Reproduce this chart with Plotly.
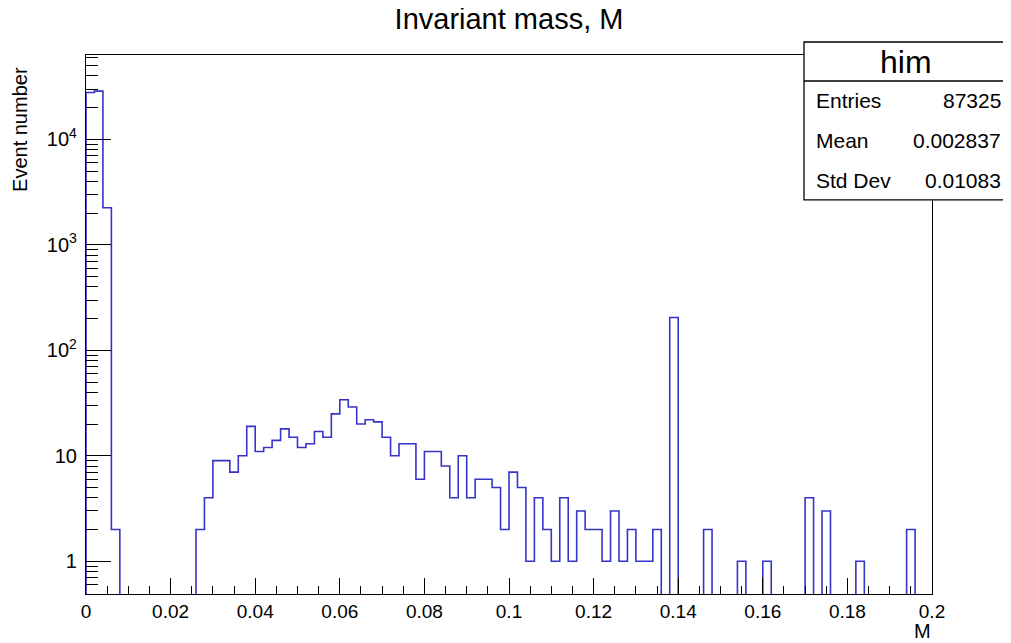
import numpy as np
import plotly.graph_objects as go

# ---------------- data ----------------
bin_width = 0.002
x_min, x_max = 0.0, 0.2
counts = [27800, 28700, 2250, 2, 0, 0, 0, 0, 0, 0,
          0, 0, 0, 2, 4, 9, 9, 7, 10, 19,
          11, 12, 14, 18, 15, 12, 13, 17, 15, 25,
          34, 29, 20, 22, 21, 15, 10, 13, 13, 6,
          11, 11, 8, 4, 10, 4, 6, 6, 5, 2,
          7, 5, 1, 4, 2, 1, 4, 1, 3, 2,
          2, 1, 3, 1, 2, 1, 1, 2, 0, 205,
          0, 0, 0, 2, 0, 0, 0, 1, 0, 0,
          1, 0, 0, 0, 0, 4, 0, 3, 0, 0,
          0, 1, 0, 0, 0, 0, 0, 2, 0, 0]

title_text = "Invariant mass, M"
x_title = "M"
y_title = "Event number"
stats_name = "him"
stats_labels = ["Entries", "Mean", "Std Dev"]
stats_values = ["87325", "0.002837", "0.01083"]

x_tickvals = [0, 0.02, 0.04, 0.06, 0.08, 0.1, 0.12, 0.14, 0.16, 0.18, 0.2]
x_ticktext = ["0", "0.02", "0.04", "0.06", "0.08", "0.1", "0.12", "0.14", "0.16", "0.18", "0.2"]
y_tickvals = [1, 10, 100, 1000, 10000]
y_ticktext = ["1", "10", "10<sup>2</sup>", "10<sup>3</sup>", "10<sup>4</sup>"]

# ---------------- layout geometry (page pixels) ----------------
OFF = 8                      # default body margin of the html page
PAGE_W, PAGE_H = 1011, 643
PL, PR, PT, PB = 86, 932, 55, 594.3   # plot frame in page pixels
W, H = PAGE_W - OFF, PAGE_H - OFF
ML, MT = PL - OFF, PT - OFF
MR = W - (PR - OFF)
MB = H - (PB - OFF)
PW = PR - PL
PH = PB - PT


def px(x):
    return (x - PL) / PW


def py(y):
    return (PB - y) / PH


ylog_lo, ylog_hi = -0.31, 4.80
FONT = "Liberation Sans, Arial, Helvetica, sans-serif"
LINE_BLUE = "#3434c8"

# step outline
edges = x_min + bin_width * np.arange(len(counts) + 1)
floor = 10 ** (ylog_lo - 1)
yv = [c if c > 0 else floor for c in counts]
xs = [edges[0]] + list(edges[:-1]) + [edges[-1], edges[-1]]
ys = [floor] + yv + [yv[-1], floor]

fig = go.Figure()
fig.add_trace(go.Scatter(x=xs, y=ys, mode="lines", line=dict(shape="hv", color=LINE_BLUE, width=1.6),
                         hoverinfo="skip", showlegend=False))

# minor log ticks
minor_y = []
for d in range(-1, 5):
    for m in range(2, 10):
        v = m * 10.0 ** d
        if ylog_lo <= np.log10(v) <= ylog_hi:
            minor_y.append(v)

fig.update_layout(
    width=W, height=H,
    margin=dict(l=ML, r=MR, t=MT, b=MB, pad=0),
    paper_bgcolor="white", plot_bgcolor="white",
    font=dict(family=FONT, color="black", size=19),
    title=dict(text=title_text, x=0.5, xref="paper", xanchor="center",
               y=1 - (19 - OFF) / H, yref="container", yanchor="middle",
               font=dict(size=29, family=FONT, color="black")),
    showlegend=False,
    xaxis=dict(range=[x_min, x_max], showgrid=False, zeroline=False,
               showline=True, linecolor="black", linewidth=1.2, mirror=True,
               ticks="inside", ticklen=16, tickwidth=1, tickcolor="black",
               tickmode="array", tickvals=x_tickvals, ticktext=x_ticktext,
               tickfont=dict(size=19),
               minor=dict(ticks="inside", dtick=0.005, tick0=0, ticklen=8,
                          tickwidth=1, tickcolor="black", showgrid=False)),
    yaxis=dict(type="log", range=[ylog_lo, ylog_hi], showgrid=False, zeroline=False,
               showline=True, linecolor="black", linewidth=1.2, mirror=True,
               ticks="inside", ticklen=25, tickwidth=1, tickcolor="black",
               tickmode="array", tickvals=y_tickvals, ticktext=y_ticktext,
               tickfont=dict(size=20), ticklabelstandoff=4,
               minor=dict(ticks="inside", tickmode="array", tickvals=minor_y, ticklen=12,
                          tickwidth=1, tickcolor="black", showgrid=False)),
)

annotations = [
    dict(text=y_title, x=px(20), y=py(130), xref="paper", yref="paper", textangle=-90,
         xanchor="center", yanchor="middle", showarrow=False, font=dict(size=20)),
    dict(text=x_title, x=px(922), y=py(631), xref="paper", yref="paper",
         xanchor="center", yanchor="middle", showarrow=False, font=dict(size=20)),
    dict(text=stats_name, x=px(906), y=py(62), xref="paper", yref="paper",
         xanchor="center", yanchor="middle", showarrow=False, font=dict(size=32)),
]
row_y = [101, 141, 181]
for lab, val, ry in zip(stats_labels, stats_values, row_y):
    annotations.append(dict(text=lab, x=px(814), y=py(ry), xref="paper", yref="paper",
                            xanchor="left", yanchor="middle", showarrow=False, font=dict(size=21)))
    annotations.append(dict(text=val, x=px(1003), y=py(ry), xref="paper", yref="paper",
                            xanchor="right", yanchor="middle", showarrow=False, font=dict(size=21)))
fig.update_layout(annotations=annotations)

fig.add_shape(type="rect", xref="paper", yref="paper", x0=px(804), x1=px(1005), y0=py(200), y1=py(42),
              fillcolor="white", line=dict(color="black", width=1.3), layer="above")
fig.add_shape(type="line", xref="paper", yref="paper", x0=px(804), x1=px(1005), y0=py(81), y1=py(81),
              line=dict(color="black", width=1.3), layer="above")

fig.write_html("out.html")
